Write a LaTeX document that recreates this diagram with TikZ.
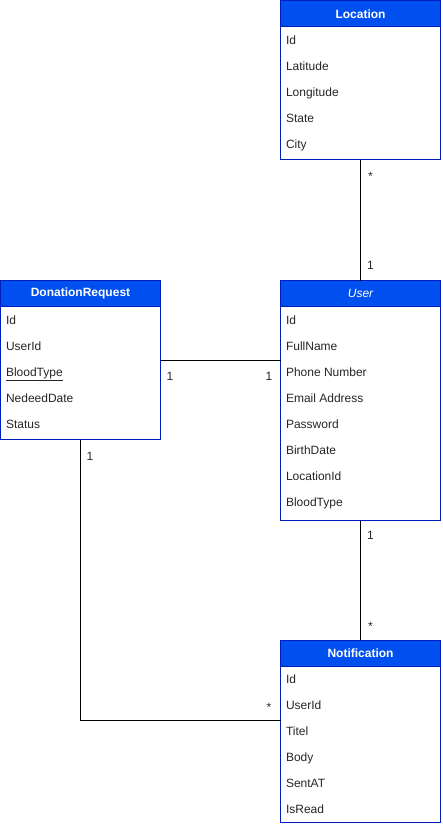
\documentclass[tikz,border=0pt]{standalone}
\usepackage{fontspec}
\setmainfont{Liberation Sans}
\begin{document}
\begin{tikzpicture}[x=1pt,y=-1pt,
  every node/.style={inner sep=0pt, outer sep=0pt, font=\fontsize{12}{14}\selectfont},
  entity/.style={draw=strokeblue, line width=1pt, fill=white, minimum width=160pt, anchor=north west},
  header/.style={draw=strokeblue, line width=1pt, fill=headblue, minimum width=160pt, minimum height=26pt, anchor=north west, text=white, font=\fontsize{12}{14}\selectfont\bfseries},
  field/.style={anchor=west, text=black!85, text height=8.6pt, text depth=0pt},
  mult/.style={anchor=center, text=black!85, text height=8.6pt, text depth=0pt},
  conn/.style={line width=1pt, draw=black}]
\definecolor{headblue}{HTML}{0050EF}
\definecolor{strokeblue}{HTML}{001DBC}
\useasboundingbox (0,0) rectangle (442,826);

% Location
\node[entity, minimum height=159pt] (loc) at (280.5,1) {};
\node[header] (loch) at (280.5,1) {Location};
\node[field] (loc1) at (286,40) {Id};
\node[field] (loc2) at (286,66) {Latitude};
\node[field] (loc3) at (286,92) {Longitude};
\node[field] (loc4) at (286,118) {State};
\node[field] (loc5) at (286,144) {City};

% User
\node[entity, minimum height=240pt] (user) at (280.5,280.5) {};
\node[header, font=\fontsize{12}{14}\selectfont\itshape] (userh) at (280.5,280.5) {User};
\node[field] (u1) at (286,320) {Id};
\node[field] (u2) at (286,346) {FullName};
\node[field] (u3) at (286,372) {Phone Number};
\node[field] (u4) at (286,398) {Email Address};
\node[field] (u5) at (286,424) {Password};
\node[field] (u6) at (286,450) {BirthDate};
\node[field] (u7) at (286,476) {LocationId};
\node[field] (u8) at (286,502) {BloodType};

% DonationRequest
\node[entity, minimum height=159pt] (dr) at (0.5,280.5) {};
\node[header] (drh) at (0.5,280.5) {DonationRequest};
\node[field] (d1) at (6,320) {Id};
\node[field] (d2) at (6,346) {UserId};
\node[field] (d3) at (6,372) {\underline{BloodType}};
\node[field] (d4) at (6,398) {NedeedDate};
\node[field] (d5) at (6,424) {Status};

% Notification
\node[entity, minimum height=182pt] (notif) at (280.5,640) {};
\node[header] (notifh) at (280.5,640) {Notification};
\node[field] (n1) at (286,679) {Id};
\node[field] (n2) at (286,705) {UserId};
\node[field] (n3) at (286,731) {Titel};
\node[field] (n4) at (286,757) {Body};
\node[field] (n5) at (286,783) {SentAT};
\node[field] (n6) at (286,809) {IsRead};

% connectors
\coordinate (ncorner) at (280.5,720);
\draw[conn] (loc.south) -- (userh.north);
\draw[conn] (dr.east) -- (dr.east -| user.west);
\draw[conn] (user.south) -- (notifh.north);
\draw[conn] (dr.south) |- (ncorner);

% multiplicities
\node[mult] (m1) at (370.5,176) {*};
\node[mult] (m2) at (370.5,265) {1};
\node[mult] (m3) at (170,376) {1};
\node[mult] (m4) at (269,376) {1};
\node[mult] (m5) at (370.5,535) {1};
\node[mult] (m6) at (370.5,626) {*};
\node[mult] (m7) at (90,456) {1};
\node[mult] (m8) at (269,707) {*};
\end{tikzpicture}
\end{document}
